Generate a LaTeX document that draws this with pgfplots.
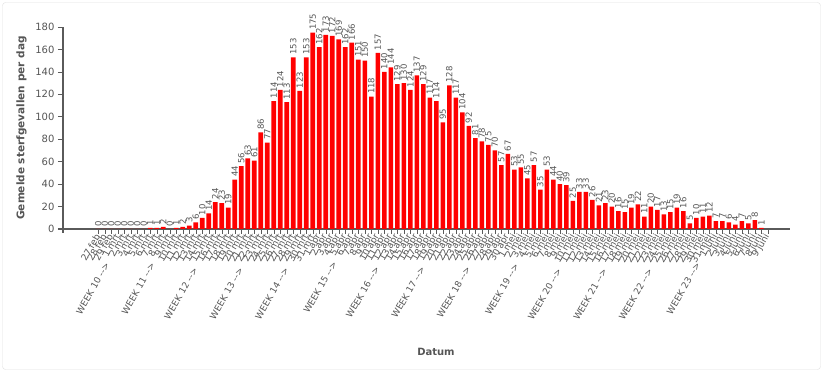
\documentclass[border=0pt]{standalone}
\usepackage{fontspec}
\setmainfont{DejaVu Sans}
\usepackage{pgfplots}
\usepackage{pgfplotstable}
\pgfplotsset{compat=1.18}
\definecolor{txt}{HTML}{555555}
\definecolor{axc}{HTML}{5A5A5A}
\newcommand\wk[1]{WEEK #1 -\kern0pt-\kern0pt>\ \ \ }
\pgfplotstableread{
k v
0 0
1 0
2 0
3 0
4 0
5 0
6 0
7 0
8 1
9 1
10 2
11 0
12 1
13 2
14 3
15 6
16 10
17 14
18 24
19 23
20 19
21 44
22 56
23 63
24 61
25 86
26 77
27 114
28 124
29 113
30 153
31 123
32 153
33 175
34 162
35 173
36 172
37 169
38 162
39 166
40 151
41 150
42 118
43 157
44 140
45 144
46 129
47 130
48 124
49 137
50 129
51 117
52 114
53 95
54 128
55 117
56 104
57 92
58 81
59 78
60 75
61 70
62 57
63 67
64 53
65 55
66 45
67 57
68 35
69 53
70 44
71 40
72 39
73 25
74 33
75 33
76 26
77 21
78 23
79 20
80 16
81 15
82 19
83 22
84 11
85 20
86 17
87 13
88 15
89 19
90 16
91 5
92 10
93 11
94 12
95 7
96 7
97 6
98 4
99 7
100 5
101 8
102 1
}\deaths
\begin{document}
\begin{tikzpicture}[x=1pt,y=1pt]
\useasboundingbox (0,0) rectangle (825,372);
\draw[gray!25, rounded corners=3pt] (2.5,2.5) rectangle (820.5,369.5);
\begin{axis}[
  at={(63pt,143pt)}, anchor=south west,
  width=727pt, height=202pt, scale only axis,
  xmin=-5.43, xmax=106.4, ymin=0, ymax=180,
  axis x line*=bottom, axis y line*=left,
  axis line style={axc, line width=1.6pt, -},
  x axis line style={shorten <=-5pt},
  y axis line style={shorten <=-4pt},
  ytick={0,20,...,180},
  xtick={0,...,103},
  xticklabels={27 feb,28 feb,29 feb,1 mrt,\wk{10}2 mrt,3 mrt,4 mrt,5 mrt,6 mrt,7 mrt,8 mrt,\wk{11}9 mrt,10 mrt,11 mrt,12 mrt,13 mrt,14 mrt,15 mrt,\wk{12}16 mrt,17 mrt,18 mrt,19 mrt,20 mrt,21 mrt,22 mrt,\wk{13}23 mrt,24 mrt,25 mrt,26 mrt,27 mrt,28 mrt,29 mrt,\wk{14}30 mrt,31 mrt,1 apr,2 apr,3 apr,4 apr,5 apr,\wk{15}6 apr,7 apr,8 apr,9 apr,10 apr,11 apr,12 apr,\wk{16}13 apr,14 apr,15 apr,16 apr,17 apr,18 apr,19 apr,\wk{17}20 apr,21 apr,22 apr,23 apr,24 apr,25 apr,26 apr,\wk{18}27 apr,28 apr,29 apr,30 apr,1 mei,2 mei,3 mei,\wk{19}4 mei,5 mei,6 mei,7 mei,8 mei,9 mei,10 mei,\wk{20}11 mei,12 mei,13 mei,14 mei,15 mei,16 mei,17 mei,\wk{21}18 mei,19 mei,20 mei,21 mei,22 mei,23 mei,24 mei,\wk{22}25 mei,26 mei,27 mei,28 mei,29 mei,30 mei,31 mei,\wk{23}1 juni,2 juni,3 juni,4 juni,5 juni,6 juni,7 juni,8 juni,9 juni},
  xticklabel style={rotate=60, anchor=east, font=\fontsize{9}{9}\selectfont, text=txt, inner sep=1pt},
  yticklabel style={font=\fontsize{10}{10}\selectfont, text=txt},
  /pgf/number format/assume math mode=true,
  tick style={axc, line width=0.6pt},
  tick align=outside,
  major tick length=5pt,
  ylabel={Gemelde sterfgevallen per dag},
  ylabel style={at={(axis description cs:-0.057,0.5)}, anchor=center, font=\bfseries\fontsize{10.5}{10.5}\selectfont, text=txt},
  xlabel={Datum},
  xlabel style={at={(axis description cs:0.513,-0.609)}, anchor=center, font=\bfseries\fontsize{10}{10}\selectfont, text=txt},
  clip=false,
]
\addplot[ybar, fill=red, draw=none, bar width=0.72,
  nodes near coords,
  nodes near coords style={rotate=90, anchor=west, font=\fontsize{8.5}{8.5}\selectfont, text=txt, inner sep=2.5pt},
] table[x=k, y=v] {\deaths};
\end{axis}
\end{tikzpicture}
\end{document}
